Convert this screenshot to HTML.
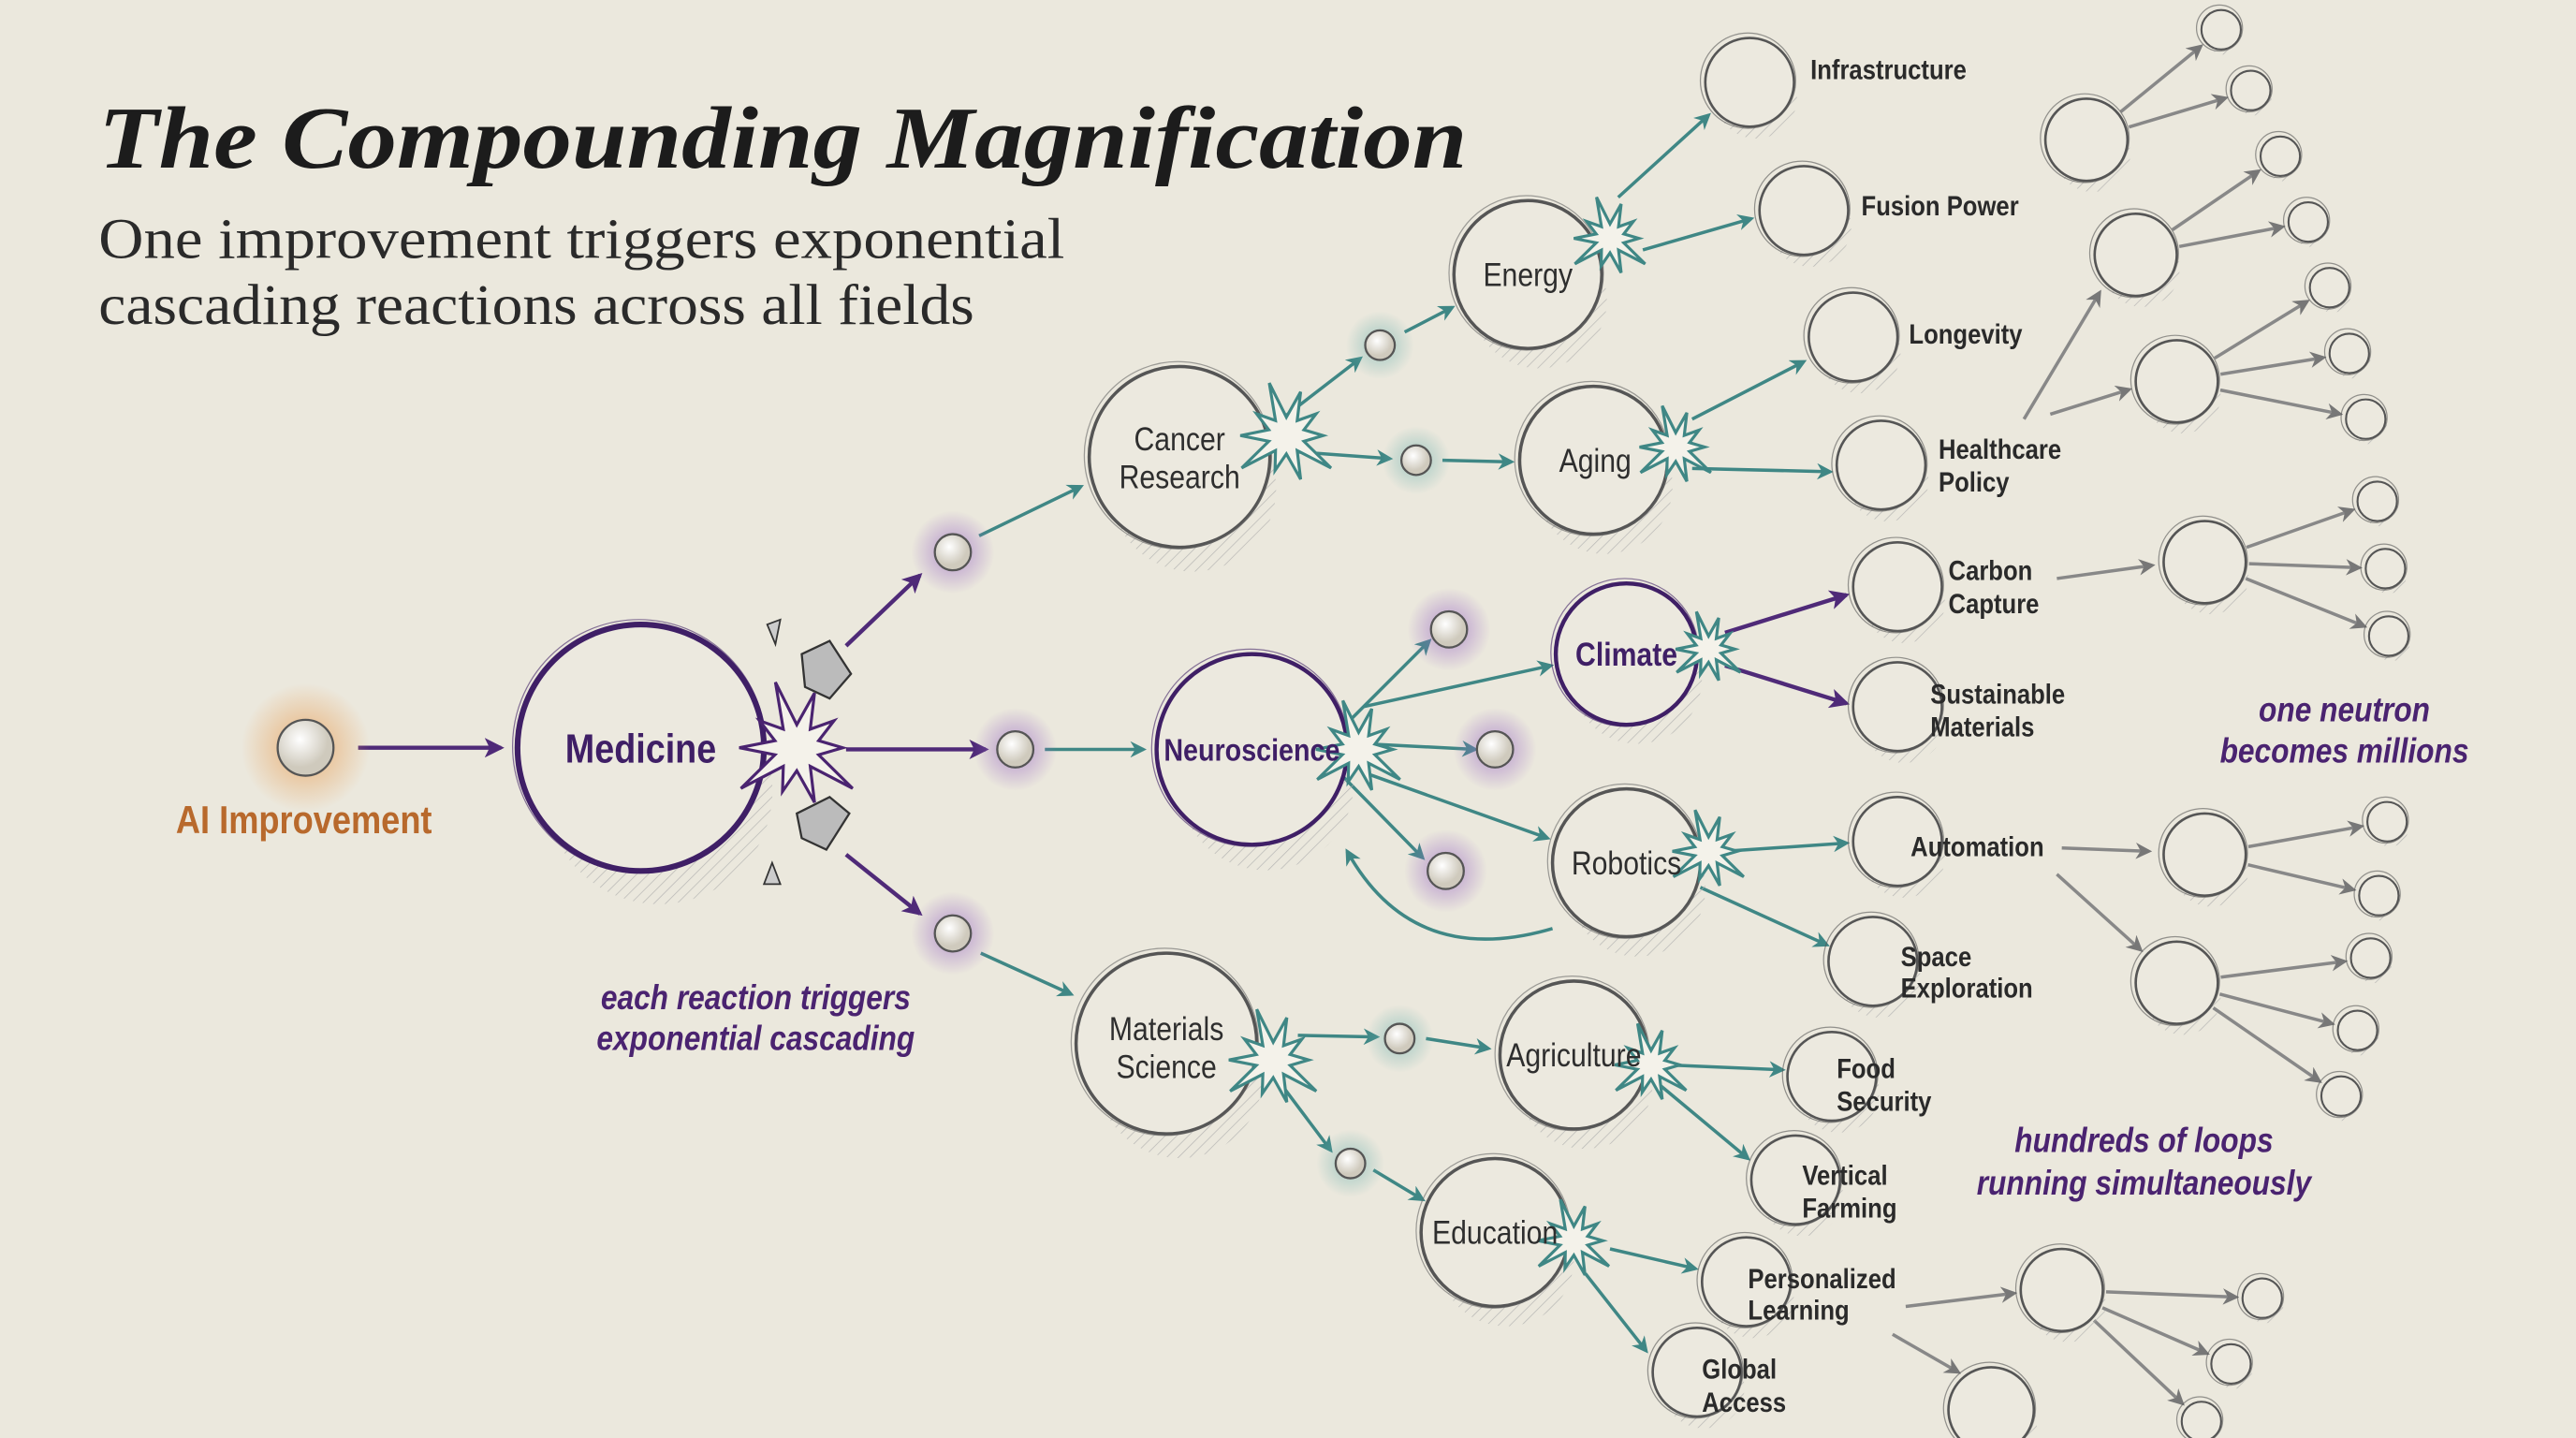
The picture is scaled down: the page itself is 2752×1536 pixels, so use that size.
<!DOCTYPE html>
<html><head><meta charset="utf-8"><style>
html,body{margin:0;padding:0;background:#ebe8dd;}
svg{display:block}
.lab{font-family:"Liberation Sans Narrow","Liberation Sans",sans-serif;fill:#2e2e2e;font-size:20px}
.sm{font-family:"Liberation Sans Narrow","Liberation Sans",sans-serif;fill:#2a2a2a;font-size:17px;font-weight:bold}
.ann{font-family:"Liberation Sans Narrow","Liberation Sans",sans-serif;fill:#4a2370;font-size:21px;font-weight:bold;font-style:italic}
</style></head><body>
<svg id="s" width="2752" height="1536" viewBox="0 0 1568 875" xmlns="http://www.w3.org/2000/svg">
<defs>
<marker id="at" markerWidth="10" markerHeight="10" refX="8" refY="5" orient="auto" markerUnits="userSpaceOnUse"><path d="M0,0 L10,5 L0,10 L3,5z" fill="#3f8785"/></marker>
<marker id="ap" markerWidth="12" markerHeight="12" refX="10" refY="6" orient="auto" markerUnits="userSpaceOnUse"><path d="M0,0 L12,6 L0,12 L3,6z" fill="#4f2a78"/></marker>
<marker id="ag" markerWidth="10" markerHeight="10" refX="8" refY="5" orient="auto" markerUnits="userSpaceOnUse"><path d="M0,0 L10,5 L0,10 L3,5z" fill="#777"/></marker>
<radialGradient id="og"><stop offset="0" stop-color="#e9a25c" stop-opacity=".8"/><stop offset="1" stop-color="#e9a25c" stop-opacity="0"/></radialGradient>
<radialGradient id="pg"><stop offset="0" stop-color="#9a6cc4" stop-opacity=".7"/><stop offset="1" stop-color="#9a6cc4" stop-opacity="0"/></radialGradient>
<radialGradient id="tg"><stop offset="0" stop-color="#6cb0ad" stop-opacity=".6"/><stop offset="1" stop-color="#6cb0ad" stop-opacity="0"/></radialGradient>
<radialGradient id="orb" cx=".4" cy=".35"><stop offset="0" stop-color="#fff"/><stop offset="1" stop-color="#cfcabd"/></radialGradient>
<pattern id="hatch" width="5" height="5" patternUnits="userSpaceOnUse" patternTransform="rotate(45)"><line x1="0" y1="0" x2="0" y2="5" stroke="#aaa" stroke-width=".8"/></pattern>
</defs>
<rect width="1568" height="875" fill="#ebe8dd"/>
<text x="60" y="102" font-family="Liberation Serif,serif" font-size="54" font-style="italic" font-weight="bold" fill="#1c1c1c" textLength="833" lengthAdjust="spacingAndGlyphs">The Compounding Magnification</text>
<text x="60" y="157" font-family="Liberation Serif,serif" font-size="35" fill="#2a2a2a" textLength="588" lengthAdjust="spacingAndGlyphs">One improvement triggers exponential</text>
<text x="60" y="197" font-family="Liberation Serif,serif" font-size="35" fill="#2a2a2a" textLength="533" lengthAdjust="spacingAndGlyphs">cascading reactions across all fields</text>
<g id="lines"></g>
<g id="nodes"></g>
<g id="txt">
<text class="nm" x="185" y="507" text-anchor="middle" font-family="Liberation Sans Narrow,Liberation Sans,sans-serif" font-size="24" font-weight="bold" fill="#b8692c">AI Improvement</text>
<text class="nm" x="390" y="464" text-anchor="middle" font-family="Liberation Sans Narrow,Liberation Sans,sans-serif" font-size="25" font-weight="bold" fill="#3f1f66">Medicine</text>
<text class="lab" x="718" y="274" text-anchor="middle">Cancer</text>
<text class="lab" x="718" y="297" text-anchor="middle">Research</text>
<text class="nm" x="762" y="463" text-anchor="middle" font-family="Liberation Sans Narrow,Liberation Sans,sans-serif" font-size="19" font-weight="bold" fill="#3f1f66">Neuroscience</text>
<text class="lab" x="710" y="633" text-anchor="middle">Materials</text>
<text class="lab" x="710" y="656" text-anchor="middle">Science</text>
<text class="lab" x="930" y="174" text-anchor="middle">Energy</text>
<text class="lab" x="971" y="287" text-anchor="middle">Aging</text>
<text class="nm" x="990" y="405" text-anchor="middle" font-family="Liberation Sans Narrow,Liberation Sans,sans-serif" font-size="20" font-weight="bold" fill="#3f1f66">Climate</text>
<text class="lab" x="990" y="532" text-anchor="middle">Robotics</text>
<text class="lab" x="958" y="649" text-anchor="middle" font-size="18">Agriculture</text>
<text class="lab" x="910" y="757" text-anchor="middle" font-size="18">Education</text>
<text class="sm" x="1102" y="48">Infrastructure</text>
<text class="sm" x="1133" y="131">Fusion Power</text>
<text class="sm" x="1162" y="209">Longevity</text>
<text class="sm" x="1180" y="279">Healthcare</text><text class="sm" x="1180" y="299">Policy</text>
<text class="sm" x="1186" y="353">Carbon</text><text class="sm" x="1186" y="373">Capture</text>
<text class="sm" x="1175" y="428">Sustainable</text><text class="sm" x="1175" y="448">Materials</text>
<text class="sm" x="1163" y="521">Automation</text>
<text class="sm" x="1157" y="588">Space</text><text class="sm" x="1157" y="607">Exploration</text>
<text class="sm" x="1118" y="656">Food</text><text class="sm" x="1118" y="676">Security</text>
<text class="sm" x="1097" y="721">Vertical</text><text class="sm" x="1097" y="741">Farming</text>
<text class="sm" x="1064" y="784">Personalized</text><text class="sm" x="1064" y="803">Learning</text>
<text class="sm" x="1036" y="839">Global</text><text class="sm" x="1036" y="859">Access</text>
<text class="ann" x="460" y="614" text-anchor="middle">each reaction triggers</text>
<text class="ann" x="460" y="639" text-anchor="middle">exponential cascading</text>
<text class="ann" x="1427" y="439" text-anchor="middle">one neutron</text>
<text class="ann" x="1427" y="464" text-anchor="middle">becomes millions</text>
<text class="ann" x="1305" y="701" text-anchor="middle">hundreds of loops</text>
<text class="ann" x="1305" y="727" text-anchor="middle">running simultaneously</text>
</g>
</svg>
<script>
var NS="http://www.w3.org/2000/svg";
var L=document.getElementById('lines'),N=document.getElementById('nodes');
function el(p,t,a){var e=document.createElementNS(NS,t);for(var k in a)e.setAttribute(k,a[k]);p.appendChild(e);return e;}
function ar(x1,y1,x2,y2,c){var col=c=='p'?'#4f2a78':c=='g'?'#888':'#3f8785';
 el(L,'line',{x1:x1,y1:y1,x2:x2,y2:y2,stroke:col,'stroke-width':c=='p'?2.5:2,'marker-end':'url(#a'+(c||'t')+')'});}
function circ(x,y,r,c,w){el(N,'circle',{cx:x,cy:y,r:r,fill:'#ece9df',stroke:'none'});
 el(N,'path',{d:'M'+(x-r*0.7)+','+(y+r*0.7)+' A'+r+','+r+' 0 0 0 '+(x+r)+','+y+' A'+r*0.9+','+r*0.9+' 0 0 1 '+(x-r*0.7)+','+(y+r*0.7)+'z',fill:'url(#hatch)',opacity:.8});
 el(N,'circle',{cx:x,cy:y,r:r,fill:'none',stroke:c||'#555',"stroke-width":w||2});
 el(N,'circle',{cx:x-1,cy:y-1,r:r+2,fill:'none',stroke:c||'#666',"stroke-width":.7,opacity:.6});}
function burst(x,y,R,c){var d='',n=10;for(var i=0;i<n*2;i++){var a=i*Math.PI/n,rr=i%2?R*0.4:R*(0.8+0.4*((i*7)%3)/2);d+=(i?'L':'M')+(x+rr*Math.cos(a)).toFixed(1)+','+(y+rr*Math.sin(a)).toFixed(1);}
 el(N,'path',{d:d+'z',fill:'#f4f2ea',stroke:c||'#3f8785','stroke-width':1.8});}
function orb(x,y,r,g){el(N,'circle',{cx:x,cy:y,r:r*2.3,fill:'url(#'+g+')'});el(N,'circle',{cx:x,cy:y,r:r,fill:'url(#orb)',stroke:'#555','stroke-width':1.3});}
ar(218,455,305,455,'p');
ar(515,393,560,350,'p');ar(596,326,658,296,'t');
ar(515,456,600,456,'p');ar(636,456,696,456,'t');
ar(515,520,560,556,'p');ar(597,580,652,605,'t');
ar(780,255,828,218,'t');ar(855,202,884,187,'t');
ar(790,275,846,279,'t');ar(878,280,920,281,'t');
ar(820,440,870,390,'t');ar(820,452,898,456,'t');ar(815,470,866,522,'t');
ar(830,430,944,405,'t');ar(830,470,942,510,'t');
ar(790,630,838,631,'t');ar(868,632,906,638,'t');
ar(780,660,810,700,'t');ar(836,712,866,730,'t');
ar(985,120,1040,70,'t');ar(1000,152,1066,133,'t');
ar(1030,255,1098,220,'t');ar(1030,285,1114,287,'t');
ar(1050,385,1124,362,'p');ar(1050,405,1124,428,'p');
ar(1050,518,1124,513,'t');ar(1035,540,1112,575,'t');
ar(1015,648,1085,651,'t');ar(1010,660,1064,705,'t');
ar(980,760,1032,772,'t');ar(965,775,1002,822,'t');
el(L,'path',{d:'M945,565 Q860,590 820,518',fill:'none',stroke:'#3f8785','stroke-width':2,'marker-end':'url(#at)'});
ar(1232,255,1278,178,'g');ar(1248,252,1296,237,'g');
ar(1252,352,1310,344,'g');ar(1255,516,1308,518,'g');ar(1252,532,1303,578,'g');
ar(1160,795,1226,787,'g');ar(1152,812,1192,835,'g');
var cl=[[1270,85,[[1352,18],[1370,55]]],[1300,155,[[1388,95],[1405,135]]],[1325,232,[[1418,175],[1430,215],[1440,255]]],
[1342,342,[[1447,305],[1452,346],[1454,387]]],[1342,520,[[1453,500],[1448,545]]],[1325,598,[[1443,583],[1435,627],[1425,667]]],[1255,785,[[1377,790],[1358,830],[1340,865]]]];
cl.forEach(function(c){c[2].forEach(function(k){var dx=k[0]-c[0],dy=k[1]-c[1],l=Math.sqrt(dx*dx+dy*dy);ar(c[0]+dx/l*27,c[1]+dy/l*27,k[0]-dx/l*16,k[1]-dy/l*16,'g');});});
orb(186,455,17,'og');
circ(390,455,75,'#3f1f66',3.5);burst(485,455,35,'#4a2370');
el(N,'path',{d:'M488,398 L505,390 L518,410 L505,425 L490,418z',fill:'#bbb',stroke:'#333','stroke-width':1.3});
el(N,'path',{d:'M485,495 L505,485 L517,495 L503,517 L488,510z',fill:'#bbb',stroke:'#333','stroke-width':1.3});
el(N,'path',{d:'M467,380 L475,377 L472,392z',fill:'#ccc',stroke:'#333','stroke-width':1});
el(N,'path',{d:'M465,538 L470,525 L475,538z',fill:'#ccc',stroke:'#333','stroke-width':1});
circ(718,278,55);burst(783,265,28);
circ(762,456,58,'#3f1f66',2.5);burst(827,456,26);
circ(710,635,55);burst(775,645,27);
circ(930,167,45);burst(980,145,22);
circ(970,280,45);burst(1020,272,22);
circ(990,398,43,'#3f1f66',2.5);burst(1040,395,20,'#3f8785');
circ(990,525,45);burst(1040,518,22);
circ(958,642,45);burst(1005,648,22);
circ(910,750,45);burst(958,755,22);
[[1065,50],[1098,128],[1128,205],[1145,283],[1155,357],[1155,430],[1155,512],[1140,585],[1115,655],[1093,718],[1063,780],[1033,835]].forEach(function(p){circ(p[0],p[1],27,'#555',1.5);});
cl.forEach(function(c){circ(c[0],c[1],25,'#555',1.5);c[2].forEach(function(k){circ(k[0],k[1],12,'#555',1.2);});});
circ(1212,858,26,'#555',1.5);
[[580,336],[618,456],[580,568],[882,383],[910,456],[880,530]].forEach(function(p){orb(p[0],p[1],11,'pg');});
[[840,210],[862,280],[852,632],[822,708]].forEach(function(p){orb(p[0],p[1],9,'tg');});
var ts=document.querySelectorAll('text.lab,text.sm,text.ann,text.nm');
for(var i=0;i<ts.length;i++){var x=+ts[i].getAttribute('x');ts[i].setAttribute('transform','translate('+x+',0) scale(0.86,1) translate('+(-x)+',0)');}
</script>
</body></html>
